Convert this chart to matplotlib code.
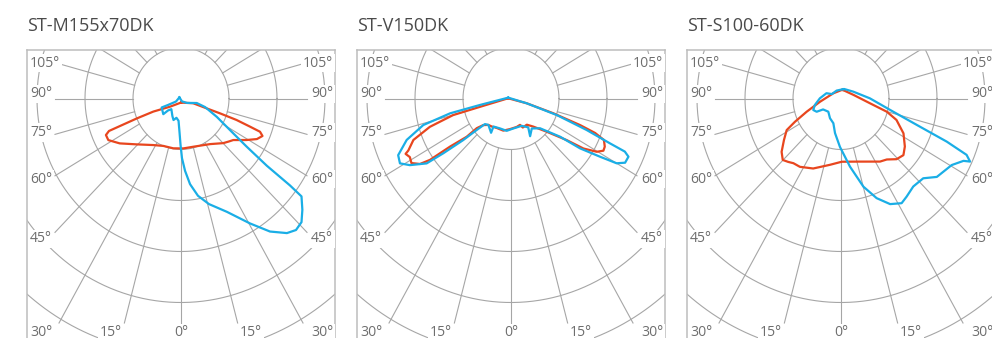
import numpy as np
import matplotlib
matplotlib.use("Agg")
import matplotlib.pyplot as plt

plt.rcParams['font.family'] = ['Open Sans', 'DejaVu Sans']

# ---- data -------------------------------------------------------------
titles = ["ST-M155x70DK", "ST-V150DK", "ST-S100-60DK"]

side_labels = ["105°", "90°", "75°", "60°", "45°"]
bottom_labels = ["30°", "15°", "0°", "15°", "30°"]

# Luminous intensity curves: angle from nadir in degrees
# (negative = left half), intensity in units of one grid ring.
m155_c0_ang = [0, -55, -66, -67, -67, -67, -65.4, -61.7, -55.4, -45.8, -32.3, -21.6,
               -9.3, 2.8, 15.2, 34.1, 45.1, 49.4, 53.2, 59.2, 63.3, 66.6, 68.4, 69.0,
               70.0, 70.3, 70.1, 69.8, 0]
m155_c0_val = [0.08, 0.28, 0.63, 1.00, 1.38, 1.63, 1.72, 1.72, 1.55, 1.29, 1.08, 1.00,
               0.99, 0.98, 0.98, 1.08, 1.24, 1.30, 1.36, 1.59, 1.77, 1.85, 1.77, 1.54,
               1.23, 0.86, 0.57, 0.27, 0.08]

m155_c90_ang = [-124, -60.4, -64.9, -66.4, -50.2, -49.1, -43.9, -27.3, -20.3, -14.1, -6.7,
                -2.7, -0.6, 1.0, 3.4, 6.4, 10.5, 15.7, 23.3, 30.4, 35.4, 39.9, 42.9, 46.0,
                49.2, 52.6, 53.1, 53.6, 55.4, 58.8, 64.2, 71.5, 74.9, 54.9, 19.6, -124]
m155_c90_val = [0.04, 0.12, 0.30, 0.44, 0.48, 0.36, 0.29, 0.39, 0.45, 0.39, 0.44,
                0.66, 0.91, 1.17, 1.42, 1.69, 1.94, 2.15, 2.42, 2.84, 3.20, 3.44, 3.52, 3.49,
                3.34, 3.16, 2.84, 2.22, 1.66, 1.19, 0.83, 0.53, 0.34, 0.15, 0.06, 0.04]

v150_c0_ang = [-94, -75.8, -74.9, -71.8, -68.2, -64.5, -63.7, -61.4, -58.6, -55.9, -54.5,
               -53.4, -50.9, -50.8, -48.0, -42.3, -36.2, -27.3, -14.3, -2.0, 12.1, 19.9,
               23.4, 32.7, 40.1, 48.8, 54.9, 57.0, 59.7, 62.0, 64.2, 67.2, 68.9, 70.1,
               71.8, 74.0, -94]
v150_c0_val = [0.06, 0.67, 1.25, 1.78, 2.19, 2.37, 2.45, 2.40, 2.43, 2.29, 2.07,
               1.58, 1.19, 0.92, 0.78, 0.70, 0.68, 0.65, 0.65, 0.60, 0.57, 0.55,
               0.62, 0.61, 0.72, 0.99, 1.42, 1.80, 2.07, 2.18, 2.17, 2.10, 1.88, 1.53,
               0.93, 0.34, 0.06]

v150_c90_ang = [-106, -78.9, -77.1, -74.1, -69.5, -64.7, -61.2, -58.2, -54.1, -52.7, -50.7,
                -49.2, -47.3, -42.3, -31.7, -33.6, -21.4, -8.1, 4.7, 22.5, 32.4, 28.3,
                36.4, 46.0, 53.8, 55.8, 58.4, 60.0, 62.1, 65.0, 66.3, 66.9, 68.6, 71.2,
                74.0, -106]
v150_c90_val = [0.06, 0.66, 1.30, 1.90, 2.32, 2.60, 2.64, 2.48, 2.17, 1.77, 1.29,
                0.95, 0.74, 0.70, 0.79, 0.66, 0.63, 0.64, 0.59, 0.58, 0.67, 0.84,
                0.73, 0.84, 1.27, 1.74, 2.18, 2.54, 2.69, 2.70, 2.59, 2.24, 1.69, 1.01,
                0.34, 0.06]

s100_c0_ang = [173, -122.5, -81.8, -70.1, -64.6, -61.3, -55.6, -49.8, -45.2, -41.5, -38.0,
               -32.6, -22.9, -10.0, 0.7, 14.8, 33.3, 38.6, 44.2, 49.5, 54.7, 62.3, 70.0,
               74.8, 81.2, 105.1, 151.5, 173]
s100_c0_val = [0.17, 0.19, 0.44, 0.76, 1.06, 1.29, 1.44, 1.62, 1.71, 1.66, 1.61,
               1.59, 1.49, 1.32, 1.24, 1.28, 1.48, 1.53, 1.66, 1.71, 1.63, 1.47, 1.23,
               0.99, 0.61, 0.27, 0.17, 0.17]

s100_c90_ang = [165, -149.5, -114.4, -108.9, -90.5, -76.8, -68.7, -62.9, -60.1, -45.6,
                -30.6, -18.2, -10.4, -1.3, 8.0, 15.1, 20.8, 26.3, 31.6, 35.4, 41.1, 47.6,
                52.4, 60.5, 64.4, 65.3, 67.1, 69.0, 71.4, 76.6, 90.4, 117.5, 155.2, 165]
s100_c90_val = [0.19, 0.18, 0.21, 0.32, 0.44, 0.56, 0.62, 0.57, 0.43, 0.37,
                0.45, 0.51, 0.69, 0.95, 1.35, 1.79, 2.09, 2.31, 2.41, 2.36, 2.29, 2.32,
                2.52, 2.65, 2.83, 2.96, 2.84, 2.36, 1.74, 1.12, 0.60, 0.29, 0.20, 0.19]

panels = [
    (titles[0], (m155_c0_ang, m155_c0_val), (m155_c90_ang, m155_c90_val)),
    (titles[1], (v150_c0_ang, v150_c0_val), (v150_c90_ang, v150_c90_val)),
    (titles[2], (s100_c0_ang, s100_c0_val), (s100_c90_ang, s100_c90_val)),
]

# ---- style --------------------------------------------------------------
RED = "#e8461e"
BLUE = "#1aaee6"
GRID = "#a6a6a6"
FRAME = "#bdbdbd"
LABEL = "#6e6e6e"
TITLE = "#4a4a4a"

W, H, DPI = 992, 338, 100
PX_X, PX_Y = 48.0, 51.0          # pixels per ring, horizontal / vertical
BOX_W, BOX_TOP, BOX_BOT = 308, 50, 400
CY = 98.5                        # pixel row of the luminaire
STEP = 330
RAY_XLIM = 126 / PX_X            # rays stop short of the side labels
RAY_YLIM = (323 - CY) / PX_Y     # and of the bottom labels

fig = plt.figure(figsize=(W / DPI, H / DPI), dpi=DPI)
fig.patch.set_facecolor("white")


def polar_xy(ang, val):
    a = np.radians(np.asarray(ang, float))
    v = np.asarray(val, float)
    return v * np.sin(a), -v * np.cos(a)


side_base = [66.7, 97.3, 136.0, 182.7, 242.3]
bottom_x = [3, 84, 154, 224, 306]
bottom_ha = ["left", "center", "center", "center", "right"]

for i, (title, c0, c90) in enumerate(panels):
    L = 27 + STEP * i
    ax = fig.add_axes([L / W, 1 - BOX_BOT / H, BOX_W / W, (BOX_BOT - BOX_TOP) / H])
    ax.set_xlim(-BOX_W / 2 / PX_X, BOX_W / 2 / PX_X)
    ax.set_ylim(-(BOX_BOT - CY) / PX_Y, (CY - BOX_TOP) / PX_Y)
    ax.set_xticks([])
    ax.set_yticks([])
    for s in ax.spines.values():
        s.set_color(FRAME)
        s.set_linewidth(1.1)

    # rings
    t = np.linspace(0, 2 * np.pi, 721)
    for r in range(1, 8):
        ax.plot(r * np.cos(t), r * np.sin(t), color=GRID, lw=0.8, zorder=1)

    # rays every 15 degrees, starting on the first ring
    for deg in range(-180, 180, 15):
        a = np.radians(deg)
        sx, sy = np.sin(a), -np.cos(a)
        ends = [10.0]
        if abs(sx) > 1e-9:
            ends.append(RAY_XLIM / abs(sx))
        if sy < -1e-9:
            ends.append(RAY_YLIM / -sy)
        tend = min(ends)
        ax.plot([sx, sx * tend], [sy, sy * tend], color=GRID, lw=0.8, zorder=1)

    # angle labels
    def to_ax(px, py):
        return px / BOX_W, (BOX_BOT - py) / (BOX_BOT - BOX_TOP)

    box = dict(facecolor="white", edgecolor="none", pad=1.2)
    for lab, yb in zip(side_labels, side_base):
        for xp, ha in ((3, "left"), (306, "right")):
            x, y = to_ax(xp, yb)
            ax.text(x, y, lab, transform=ax.transAxes, ha=ha, va="baseline",
                    fontsize=10.1, color=LABEL, bbox=box, zorder=3, clip_on=False)
    for lab, xp, ha in zip(bottom_labels, bottom_x, bottom_ha):
        x, y = to_ax(xp, 336.5)
        ax.text(x, y, lab, transform=ax.transAxes, ha=ha, va="baseline",
                fontsize=10.1, color=LABEL, bbox=box, zorder=3, clip_on=False)

    # intensity curves
    x0, y0 = polar_xy(*c0)
    x9, y9 = polar_xy(*c90)
    ax.plot(x0, y0, color=RED, lw=1.6, zorder=4, solid_joinstyle="round")
    ax.plot(x9, y9, color=BLUE, lw=1.6, zorder=5, solid_joinstyle="round")

    fig.text(L / W, 1 - 30.7 / H, title, ha="left", va="baseline",
             fontsize=13, color=TITLE)

fig.savefig("out.png", dpi=DPI, facecolor="white")
